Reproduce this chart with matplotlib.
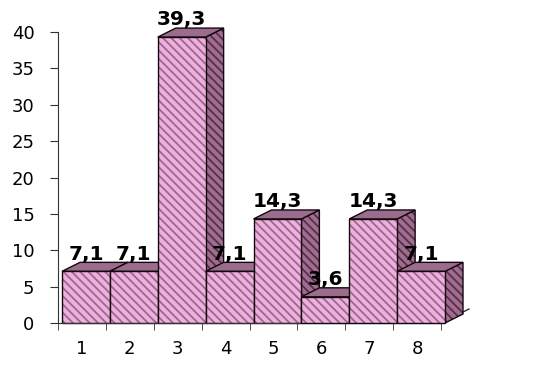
import matplotlib
matplotlib.use('Agg')
import matplotlib.pyplot as plt
from matplotlib.patches import Polygon, Rectangle

categories = ['1', '2', '3', '4', '5', '6', '7', '8']
values = [7.1, 7.1, 39.3, 7.1, 14.3, 3.6, 14.3, 7.1]
value_labels = ['7,1', '7,1', '39,3', '7,1', '14,3', '3,6', '14,3', '7,1']
y_ticks = [0, 5, 10, 15, 20, 25, 30, 35, 40]

plt.rcParams['font.family'] = ['DejaVu Sans']
plt.rcParams['hatch.linewidth'] = 1.3

W, H = 535, 365
fig = plt.figure(figsize=(W / 100, H / 100), dpi=100)
ax = fig.add_axes([58 / W, 42 / H, 383 / W, 291 / H])
ax.set_xlim(0.5, len(categories) + 0.5)
ax.set_ylim(0, 40)

px_x = 383 / len(categories)
px_y = 291 / 40
dx = 18 / px_x
dy = 9 / px_y
shift = 4 / px_x

front_bg, front_hatch = '#EAB4DA', '#A8609A'
top_bg = '#9C6C8C'
side_bg, side_hatch = '#9E6E8E', '#5A2C4E'
edge = '#140810'

for i, v in enumerate(values):
    x = i + 1
    x0 = x - 0.5 + shift
    x1 = x + 0.5 + shift
    side = [(x1, 0), (x1 + dx, dy), (x1 + dx, v + dy), (x1, v)]
    top = [(x0, v), (x0 + dx, v + dy), (x1 + dx, v + dy), (x1, v)]
    z = 2 + i * 0.1
    ax.add_patch(Polygon(side, closed=True, facecolor=side_bg, edgecolor=side_hatch,
                         hatch='\\\\\\\\', linewidth=0, clip_on=False, zorder=z))
    ax.add_patch(Polygon(side, closed=True, fill=False, edgecolor=edge,
                         linewidth=1.0, clip_on=False, zorder=z + 0.01))
    ax.add_patch(Polygon(top, closed=True, facecolor=top_bg, edgecolor=edge,
                         linewidth=1.0, clip_on=False, zorder=z + 0.02))
    ax.add_patch(Rectangle((x0, 0), x1 - x0, v, facecolor=front_bg, edgecolor=front_hatch,
                           hatch='\\\\\\\\', linewidth=0, clip_on=False, zorder=z + 0.03))
    ax.add_patch(Rectangle((x0, 0), x1 - x0, v, fill=False, edgecolor=edge,
                           linewidth=1.0, clip_on=False, zorder=z + 0.04))
    ax.annotate(value_labels[i], (x + shift, v + dy), xytext=(0, 2),
                textcoords='offset points', ha='center', va='baseline',
                fontsize=14.5, fontweight='bold', color='black', zorder=10,
                annotation_clip=False)

# floor depth line
xe = len(categories) + 0.5
ax.plot([xe, xe + 28 / px_x], [0, 14 / px_y], color='#333333', lw=1.0,
        clip_on=False, zorder=1)

for s in ['top', 'right']:
    ax.spines[s].set_visible(False)
ax.spines['left'].set_color('#333333')
ax.spines['bottom'].set_color('#333333')

ax.set_xticks(range(1, len(categories) + 1))
ax.set_xticklabels(categories, fontsize=13)
ax.set_xticks([i + 0.5 for i in range(len(categories) + 1)], minor=True)
ax.tick_params(axis='x', which='major', length=0, pad=12)
ax.tick_params(axis='x', which='minor', length=5, direction='out', color='#333333')
ax.set_yticks(y_ticks)
ax.set_yticklabels([str(t) for t in y_ticks], fontsize=13)
ax.tick_params(axis='y', length=6, pad=11, color='#333333')
ax.patch.set_alpha(0)

fig.savefig('out.png', dpi=100)
